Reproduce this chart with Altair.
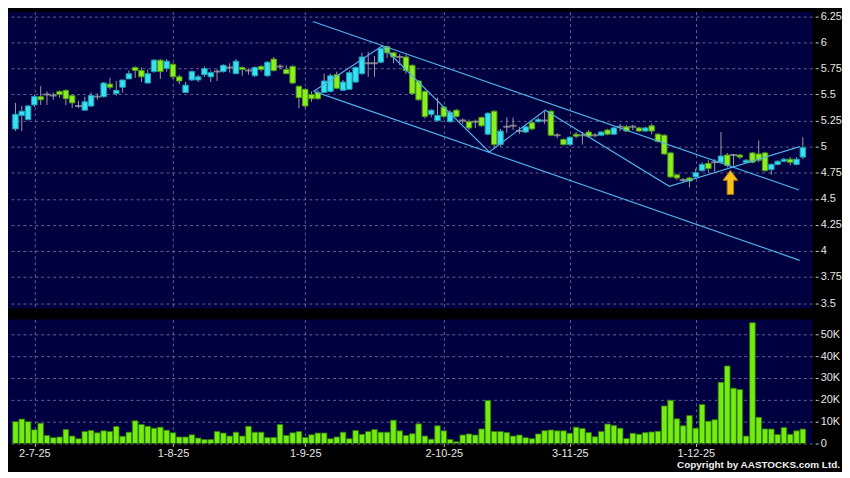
import altair as alt
import pandas as pd
import numpy as np

# ---------------- data ----------------
opens = [5.17, 5.30, 5.26, 5.40, 5.48, 5.50, 5.49, 5.53, 5.54, 5.49,
         5.39, 5.35, 5.39, 5.48, 5.48, 5.60, 5.51, 5.57, 5.65, 5.76,
         5.73, 5.61, 5.72, 5.83, 5.75, 5.79, 5.67, 5.52, 5.64, 5.64,
         5.69, 5.67, 5.72, 5.72, 5.76, 5.70, 5.76, 5.73, 5.68, 5.77,
         5.68, 5.84, 5.77, 5.74, 5.77, 5.58, 5.55, 5.50, 5.52, 5.52,
         5.53, 5.69, 5.54, 5.55, 5.62, 5.70, 5.80, 5.80, 5.81, 5.96,
         5.90, 5.86, 5.86, 5.78, 5.63, 5.53, 5.31, 5.25, 5.38, 5.24,
         5.35, 5.25, 5.24, 5.24, 5.28, 5.12, 5.34, 5.02, 5.19, 5.20,
         5.15, 5.14, 5.23, 5.24, 5.25, 5.34, 5.11, 5.07, 5.02, 5.12,
         5.11, 5.14, 5.11, 5.11, 5.16, 5.12, 5.19, 5.19, 5.19, 5.18,
         5.15, 5.20, 5.12, 5.11, 4.94, 4.73, 4.68, 4.70, 4.71, 4.77,
         4.84, 4.85, 4.85, 4.92, 4.92, 4.92, 4.85, 4.94, 4.93, 4.94,
         4.78, 4.83, 4.86, 4.88, 4.83, 4.90]
highs = [5.42, 5.39, 5.40, 5.50, 5.58, 5.53, 5.52, 5.54, 5.55, 5.50,
         5.44, 5.48, 5.52, 5.51, 5.62, 5.66, 5.63, 5.64, 5.73, 5.77,
         5.76, 5.74, 5.84, 5.84, 5.84, 5.80, 5.69, 5.62, 5.73, 5.69,
         5.77, 5.73, 5.74, 5.79, 5.80, 5.84, 5.77, 5.75, 5.77, 5.78,
         5.82, 5.86, 5.79, 5.78, 5.78, 5.58, 5.56, 5.53, 5.54, 5.70,
         5.70, 5.72, 5.64, 5.73, 5.77, 5.90, 5.91, 5.87, 5.95, 5.97,
         5.91, 5.89, 5.88, 5.79, 5.64, 5.54, 5.36, 5.47, 5.39, 5.35,
         5.36, 5.27, 5.26, 5.26, 5.29, 5.33, 5.35, 5.17, 5.28, 5.28,
         5.19, 5.21, 5.25, 5.28, 5.34, 5.35, 5.13, 5.08, 5.10, 5.14,
         5.14, 5.16, 5.13, 5.15, 5.17, 5.19, 5.22, 5.21, 5.21, 5.19,
         5.19, 5.22, 5.13, 5.12, 4.95, 4.74, 4.70, 4.71, 4.79, 4.85,
         4.87, 4.88, 5.14, 4.94, 4.93, 4.93, 4.88, 4.95, 5.06, 4.95,
         4.84, 4.87, 4.89, 4.90, 4.90, 5.09]
lows = [5.15, 5.15, 5.25, 5.38, 5.40, 5.40, 5.45, 5.47, 5.40, 5.37,
        5.37, 5.35, 5.38, 5.45, 5.47, 5.55, 5.49, 5.52, 5.65, 5.66,
        5.62, 5.61, 5.71, 5.65, 5.72, 5.65, 5.60, 5.52, 5.63, 5.62,
        5.67, 5.62, 5.63, 5.71, 5.71, 5.70, 5.68, 5.69, 5.67, 5.72,
        5.67, 5.72, 5.74, 5.70, 5.60, 5.37, 5.37, 5.43, 5.45, 5.52,
        5.52, 5.55, 5.54, 5.55, 5.61, 5.69, 5.67, 5.67, 5.80, 5.85,
        5.80, 5.78, 5.70, 5.50, 5.44, 5.27, 5.28, 5.24, 5.27, 5.23,
        5.28, 5.22, 5.16, 5.18, 5.19, 5.11, 4.98, 5.00, 5.13, 5.16,
        5.12, 5.13, 5.16, 5.23, 5.22, 5.10, 5.08, 5.01, 5.01, 5.08,
        5.02, 5.09, 5.09, 5.10, 5.11, 5.11, 5.15, 5.14, 5.16, 5.14,
        5.14, 5.12, 5.04, 4.92, 4.70, 4.68, 4.66, 4.61, 4.70, 4.76,
        4.75, 4.76, 4.84, 4.80, 4.81, 4.88, 4.84, 4.84, 4.85, 4.76,
        4.73, 4.82, 4.85, 4.82, 4.82, 4.88]
closes = [5.31, 5.34, 5.39, 5.48, 5.45, 5.50, 5.49, 5.50, 5.46, 5.42,
          5.39, 5.43, 5.49, 5.48, 5.61, 5.57, 5.54, 5.64, 5.70, 5.73,
          5.67, 5.70, 5.83, 5.72, 5.82, 5.67, 5.63, 5.59, 5.72, 5.67,
          5.75, 5.71, 5.72, 5.78, 5.76, 5.82, 5.74, 5.73, 5.76, 5.74,
          5.81, 5.73, 5.77, 5.70, 5.61, 5.47, 5.39, 5.46, 5.46, 5.63,
          5.68, 5.56, 5.62, 5.71, 5.76, 5.86, 5.80, 5.80, 5.94, 5.90,
          5.86, 5.86, 5.73, 5.51, 5.45, 5.29, 5.35, 5.30, 5.29, 5.33,
          5.29, 5.25, 5.18, 5.24, 5.20, 5.32, 5.02, 5.15, 5.19, 5.20,
          5.15, 5.19, 5.17, 5.26, 5.25, 5.11, 5.11, 5.02, 5.09, 5.10,
          5.11, 5.10, 5.11, 5.14, 5.12, 5.18, 5.19, 5.15, 5.19, 5.15,
          5.18, 5.15, 5.05, 4.93, 4.71, 4.70, 4.68, 4.67, 4.75, 4.83,
          4.79, 4.85, 4.91, 4.82, 4.92, 4.90, 4.87, 4.85, 4.87, 4.77,
          4.83, 4.86, 4.88, 4.85, 4.88, 4.99]
volumes_k = [10, 11.2, 10, 6.3, 9.3, 3.7, 2.7, 3, 6.4, 3.4,
             2.2, 5.5, 6, 4.9, 5.8, 5.5, 7.8, 3.3, 5.2, 10.4,
             8.7, 7.9, 7, 7.5, 6.1, 4.9, 3, 3, 4, 2.5,
             1.8, 1.8, 5.5, 4.8, 3.4, 5.2, 3.4, 7.9, 5.2, 5.2,
             2.8, 2.8, 8.7, 3.7, 4.9, 5.5, 2.8, 4, 4.8, 4.8,
             2.2, 3, 5.2, 2.2, 6, 4.2, 5.5, 6.4, 5.2, 5.2,
             10.7, 5.8, 3.7, 4.5, 9, 3.4, 2, 8.1, 5.8, 1.9,
             0.8, 3.9, 4.4, 3.9, 6.7, 19.7, 5.5, 5.5, 5, 3.4,
             3.9, 2.7, 2.2, 4.4, 5.9, 6.2, 5.8, 5.8, 4.7, 7.5,
             6.9, 5, 3.1, 5.5, 8.9, 8.3, 7, 2.3, 4.7, 4.2,
             5, 5.3, 5.6, 17.2, 19.8, 11.3, 8.1, 12.8, 7, 17.9,
             10.2, 10.9, 28, 35.5, 25.3, 24.7, 3.4, 55.3, 12, 6.7,
             6.6, 4.1, 7.3, 4.2, 5.8, 6.6]

tick_index = [3, 25, 46, 68, 88, 108]
tick_labels = ["2-7-25", "1-8-25", "1-9-25", "2-10-25", "3-11-25", "1-12-25"]
price_ticks = [3.5, 3.75, 4.0, 4.25, 4.5, 4.75, 5.0, 5.25, 5.5, 5.75, 6.0, 6.25]
volume_ticks = [0, 10000, 20000, 30000, 40000, 50000]

upper_i = [47.2, 124.4]
upper_p = [6.20, 4.585]
lower_i = [47.4, 124.5]
lower_p = [5.53, 3.91]
zigzag_i = [47.3, 58.2, 75.2, 84.1, 103.8, 124.5]
zigzag_p = [5.53, 5.965, 4.95, 5.35, 4.62, 5.00]
arrow_i = [113.5]
arrow_p = [4.657]

# ---------------- styling ----------------
NAVY = "#000040"
UP = "#38e0f0"
UP_EDGE = "#1c9fb8"
DOWN = "#8aee22"
DOWN_EDGE = "#4f9a10"
WICK = "#9c9c9c"
LINE = "#4fb0e6"
GRID = "#7a7aa6"
TXT = "#e6e6e6"
FONT = "Liberation Sans"

n = len(opens)
df = pd.DataFrame({
    "i": np.arange(n),
    "open": opens, "high": highs, "low": lows, "close": closes,
    "volume": [v * 1000 for v in volumes_k],
})
df["dir"] = np.where(df["close"] > df["open"], "up",
                     np.where(df["close"] < df["open"], "down", "flat"))

lines_df = pd.concat([
    pd.DataFrame({"line": "upper", "k": range(len(upper_i)), "i": upper_i, "p": upper_p}),
    pd.DataFrame({"line": "lower", "k": range(len(lower_i)), "i": lower_i, "p": lower_p}),
    pd.DataFrame({"line": "zigzag", "k": range(len(zigzag_i)), "i": zigzag_i, "p": zigzag_p}),
])
arrow_df = pd.DataFrame({"i": arrow_i, "p": arrow_p})

W = 810
XDOM = [-0.4, 125.7]

label_expr = " : ".join(
    f"datum.value == {ix} ? '{lab}'" for ix, lab in zip(tick_index, tick_labels)
) + " : ''"

grid_kw = dict(grid=True, gridColor=GRID, gridDash=[3, 3], gridWidth=1, gridOpacity=0.8)

x_price = alt.X("i:Q", scale=alt.Scale(domain=XDOM, nice=False, zero=False),
                axis=alt.Axis(values=tick_index, labels=False, ticks=False, domain=False,
                              title=None, **grid_kw))
x_vol = alt.X("i:Q", scale=alt.Scale(domain=XDOM, nice=False, zero=False),
              axis=alt.Axis(values=tick_index, labelExpr=label_expr, ticks=True, tickSize=3,
                            tickColor="#bbbbbb", domain=False, title=None, labelPadding=1,
                            labelColor=TXT, labelFont=FONT, labelFontSize=11,
                            labelFlush=False, labelOverlap=False, **grid_kw))

y_scale = alt.Scale(domain=[3.448, 6.295], nice=False, zero=False)
y_axis = alt.Axis(orient="right", values=price_ticks, labelExpr="'' + datum.value",
                  title=None, domain=False,
                  tickSize=3, tickColor="#cccccc", offset=3, labelPadding=2,
                  labelColor=TXT, labelFont=FONT, labelFontSize=11, labelFlush=False,
                  labelOverlap=False, **grid_kw)

base = alt.Chart(df)

wicks = base.mark_rule(color=WICK, strokeWidth=1, clip=True).encode(
    x=x_price,
    y=alt.Y("low:Q", scale=y_scale, axis=y_axis),
    y2="high:Q",
)
bodies = base.transform_filter("datum.dir != 'flat'").mark_bar(
    size=5.5, strokeWidth=1, clip=True
).encode(
    x=x_price,
    y=alt.Y("open:Q", scale=y_scale, axis=y_axis),
    y2="close:Q",
    fill=alt.Color("dir:N", scale=alt.Scale(domain=["up", "down"], range=[UP, DOWN]), legend=None),
    stroke=alt.Color("dir:N", scale=alt.Scale(domain=["up", "down"], range=[UP_EDGE, DOWN_EDGE]),
                     legend=None),
)
dojis = base.transform_filter("datum.dir == 'flat'").mark_tick(
    orient="horizontal", size=7, thickness=2, color="#a8a8a8", clip=True
).encode(
    x=x_price,
    y=alt.Y("open:Q", scale=y_scale, axis=y_axis),
)
trend = alt.Chart(lines_df).mark_line(color=LINE, strokeWidth=1.2, clip=True).encode(
    x=x_price,
    y=alt.Y("p:Q", scale=y_scale, axis=y_axis),
    detail="line:N",
    order="k:Q",
)
arrow_shape = "M0,-1L0.62,-0.18L0.27,-0.18L0.27,1L-0.27,1L-0.27,-0.18L-0.62,-0.18Z"
arrow = alt.Chart(arrow_df).mark_point(
    shape=arrow_shape, size=576, filled=True, fill="#f4c21c", stroke="#b9770a",
    strokeWidth=1, opacity=1
).encode(
    x=x_price,
    y=alt.Y("p:Q", scale=y_scale, axis=y_axis),
)

price = alt.layer(wicks, bodies, dojis, trend, arrow).properties(width=W, height=299)

v_scale = alt.Scale(domain=[0, 56800], nice=False)
v_axis = alt.Axis(orient="right", values=volume_ticks,
                  labelExpr="datum.value == 0 ? '0' : (datum.value / 1000) + 'K'",
                  title=None, domain=False, tickSize=3, tickColor="#cccccc", offset=3,
                  labelPadding=2, labelColor=TXT, labelFont=FONT, labelFontSize=11,
                  labelFlush=False, labelOverlap=False, **grid_kw)

vol_bars = base.mark_bar(size=5.6, fill="#74ec12", stroke="#2f7a06", strokeWidth=0.8,
                         clip=True).encode(
    x=x_vol,
    y=alt.Y("volume:Q", scale=v_scale, axis=v_axis),
)
copyright_txt = alt.Chart(pd.DataFrame({"t": ["Copyright by AASTOCKS.com Ltd."]})).mark_text(
    align="right", baseline="bottom", font=FONT, fontSize=10, fontWeight="bold",
    color="#f0f0f0"
).encode(
    x=alt.value(838), y=alt.value(152), text="t:N"
)

volume = alt.layer(vol_bars, copyright_txt).properties(width=W, height=125)

chart = alt.vconcat(price, volume, spacing=11).properties(
    background="#000000",
    padding={"left": 0, "top": 0, "right": 0, "bottom": 0},
).configure_view(fill=NAVY, stroke=NAVY, strokeWidth=0)

chart.save("out.html", embed_options={"renderer": "svg", "actions": False})
